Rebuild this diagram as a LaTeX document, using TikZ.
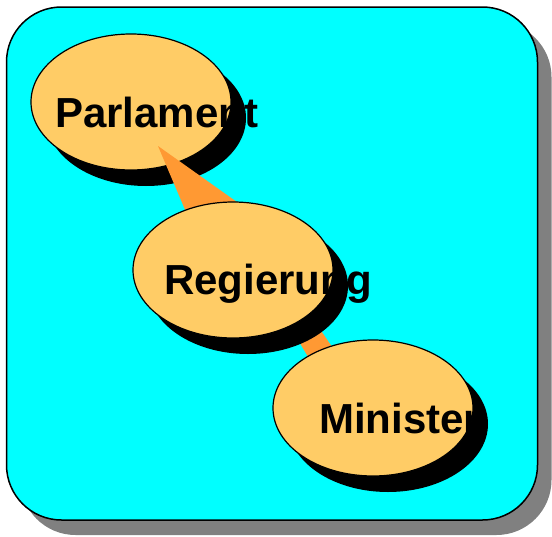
\documentclass[tikz,border=0pt]{standalone}
\usepackage{fontspec}
\setmainfont{Liberation Sans}
\usetikzlibrary{shapes.geometric,shadows,calc}
\definecolor{boxcyan}{RGB}{0,255,255}
\definecolor{blobfill}{RGB}{255,204,102}
\definecolor{wedgeorange}{RGB}{255,153,51}
\definecolor{boxshadow}{RGB}{128,128,128}

\begin{document}
\begin{tikzpicture}[x=1pt,y=-1pt,line join=round,
    frame/.style={draw=black,line width=1.5pt,fill=boxcyan,rounded corners=55pt,
      minimum width=531pt,minimum height=513pt,inner sep=0pt,
      drop shadow={shadow xshift=14pt,shadow yshift=-15pt,fill=boxshadow,opacity=1}},
    blob/.style={ellipse,draw=black,line width=1.2pt,fill=blobfill,
      minimum width=200pt,minimum height=136pt,inner sep=0pt,
      drop shadow={shadow xshift=15pt,shadow yshift=-16pt,fill=black,opacity=1}},
    wedge/.style={fill=wedgeorange,draw=none},
    label/.style={anchor=base west,inner sep=0pt,font=\fontsize{42}{50}\selectfont\bfseries}]
      \useasboundingbox (0,0) rectangle (552,536);
      \node[frame] (box) at (272,263.5) {};
      % centres of the three ellipses
      \coordinate (p) at (131,102);
      \coordinate (r) at (233,270);
      \coordinate (m) at (373,408);
      \node[blob] (parl) at (p) {};
      \fill[wedge] ($(parl.center)+(27,44)$) -- ($(r)+(-33,-25)$) -- ($(r)+(42,-41)$) -- cycle;
      \fill[wedge] ($(r)+(47,40)$) -- ($(r)+(67,30)$) -- ($(m)+(-8,-13)$) -- ($(m)+(-33,2)$) -- cycle;
      \node[blob] (reg) at (r) {};
      \node[blob] (min) at (m) {};
      \node[label] (parltext) at (55,127) {Parlament};
      \node[label] (regtext) at (164,294) {Regierung};
      \node[label] (mintext) at (319,433) {Minister};
\end{tikzpicture}
\end{document}
